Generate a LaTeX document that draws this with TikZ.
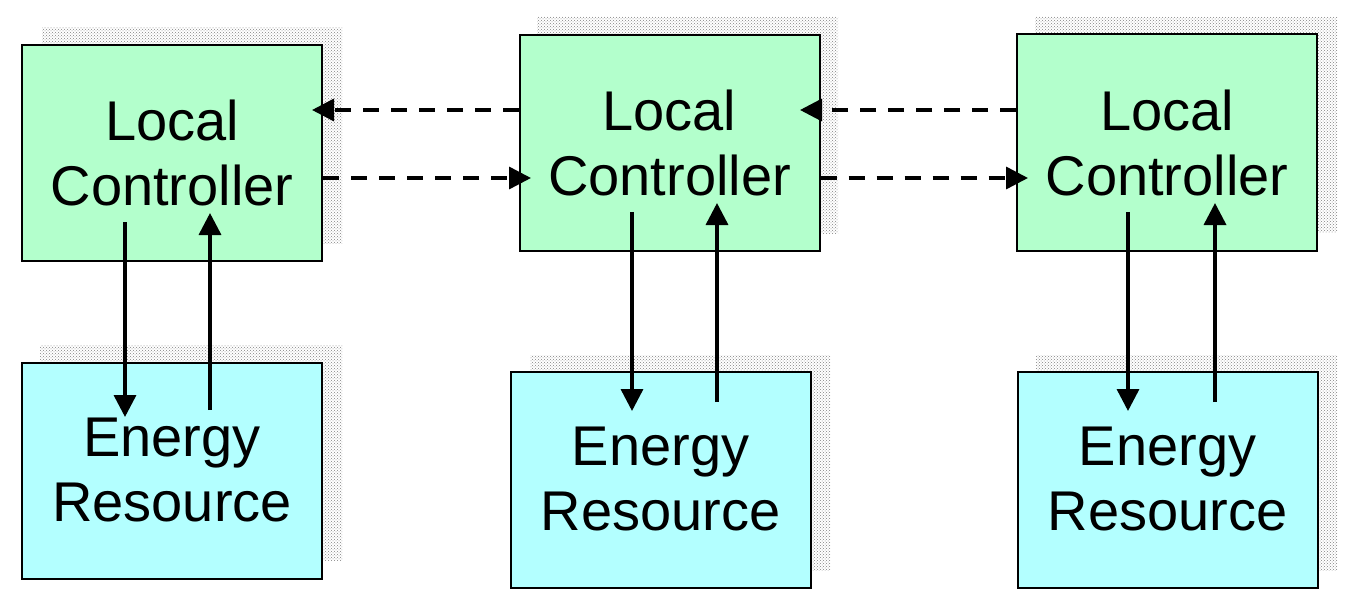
\documentclass[tikz,border=0pt]{standalone}
\usepackage{fontspec}
\setmainfont{Liberation Sans}
\usetikzlibrary{arrows.meta,patterns}
\definecolor{lgreen}{HTML}{B3FFCC}
\definecolor{lcyan}{HTML}{B3FFFF}
\begin{document}
\begin{tikzpicture}[x=1pt,y=-1pt,
  shadowbox/.style={pattern=crosshatch dots,pattern color=gray},
  lc/.style={draw,line width=2pt,fill=lgreen,minimum width=300pt,minimum height=216pt,inner sep=0pt,align=center,font=\fontsize{56}{65}\selectfont},
  er/.style={draw,line width=2pt,fill=lcyan,minimum width=300pt,minimum height=216pt,inner sep=0pt,align=center,font=\fontsize{56}{65}\selectfont},
  arr/.style={line width=3.5pt,-{Triangle[length=22pt,width=22pt]}},
  darr/.style={arr,dash pattern=on 16pt off 12pt}]
\useasboundingbox (0,0) rectangle (1353,607);
% shadows
\fill[shadowbox] (42,28) rectangle (342,243);
\fill[shadowbox] (537,17) rectangle (838,233);
\fill[shadowbox] (1035,17) rectangle (1337,232);
\fill[shadowbox] (40,345) rectangle (342,560);
\fill[shadowbox] (530,355) rectangle (830,570);
\fill[shadowbox] (1036,355) rectangle (1337,570);
% boxes
\node[lc] (lc1) at (172,153) {Local\\Controller};
\node[lc] (lc2) at (669.5,143) {Local\\Controller};
\node[lc] (lc3) at (1167,142.5) {Local\\Controller};
\node[er] (er1) at (172,470.5) {Energy\\Resource};
\node[er] (er2) at (660.5,479.5) {Energy\\Resource};
\node[er] (er3) at (1167.5,479.5) {Energy\\Resource};
% vertical arrows
\coordinate (a1s) at (125,222); \coordinate (a1e) at (125,417);
\coordinate (b1s) at (210,410); \coordinate (b1e) at (210,213);
\draw[arr] (a1s) -- (a1e); \draw[arr] (b1s) -- (b1e);
\coordinate (a2s) at (632,212); \coordinate (a2e) at (632,411);
\coordinate (b2s) at (717,402); \coordinate (b2e) at (717,203);
\draw[arr] (a2s) -- (a2e); \draw[arr] (b2s) -- (b2e);
\coordinate (a3s) at (1128,212); \coordinate (a3e) at (1128,411);
\coordinate (b3s) at (1215,402); \coordinate (b3e) at (1215,203);
\draw[arr] (a3s) -- (a3e); \draw[arr] (b3s) -- (b3e);
% dashed
\draw[darr] (lc2.west |- 0,110) -- (312,110);
\draw[darr] (lc1.east |- 0,178) -- (531,178);
\draw[darr] (lc3.west |- 0,110) -- (800,110);
\draw[darr] (lc2.east |- 0,178) -- (1028,178);
\end{tikzpicture}
\end{document}
